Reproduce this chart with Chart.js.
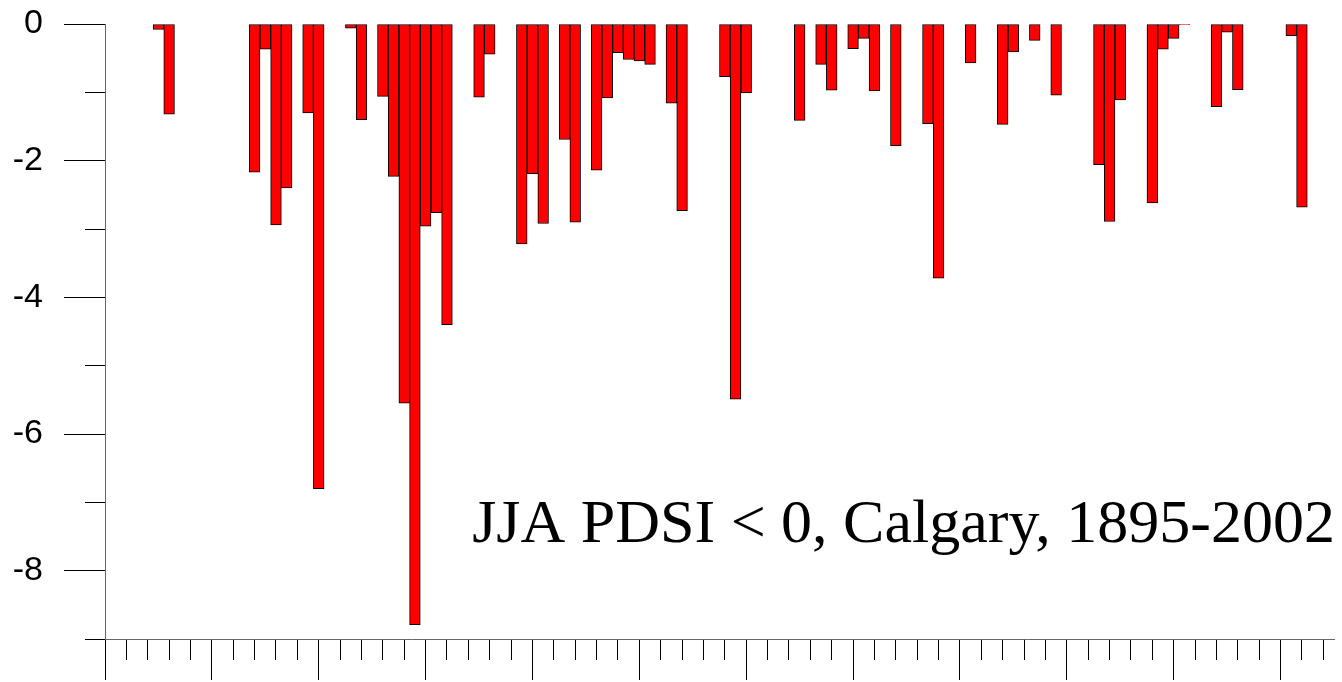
<!DOCTYPE html>
<html>
<head>
<meta charset="utf-8">
<script src="https://cdn.jsdelivr.net/npm/chart.js@4/dist/chart.umd.min.js"></script>
<style>
  html, body { margin: 0; padding: 0; background: #fff; }
  #wrap { width: 1342px; height: 682px; }
</style>
</head>
<body>
<div id="wrap"><canvas id="pdsi-chart"></canvas></div>
<script>
// JJA PDSI, dry years only (values < 0), Calgary
const years = [
    1895, 1896, 1904, 1905, 1906, 1907, 1909, 1910, 1913, 1914,
    1916, 1917, 1918, 1919, 1920, 1921, 1922, 1925, 1926, 1929,
    1930, 1931, 1933, 1934, 1936, 1937, 1938, 1939, 1940, 1941,
    1943, 1944, 1948, 1949, 1950, 1955, 1957, 1958, 1960, 1961,
    1962, 1964, 1967, 1968, 1971, 1974, 1975, 1977, 1979, 1983,
    1984, 1985, 1988, 1989, 1990, 1991, 1994, 1995, 1996, 2001,
    2002
];
const pdsi = [
    -0.08, -1.32, -2.17, -0.37, -2.94, -2.40, -1.30, -6.80, -0.06, -1.40,
    -1.06, -2.23, -5.55, -8.79, -2.96, -2.76, -4.40, -1.07, -0.44, -3.22,
    -2.19, -2.92, -1.69, -2.90, -2.14, -1.08, -0.42, -0.52, -0.54, -0.59,
    -1.16, -2.73, -0.77, -5.49, -1.01, -1.41, -0.59, -0.97, -0.36, -0.21,
    -0.98, -1.78, -1.46, -3.72, -0.57, -1.47, -0.41, -0.24, -1.04, -2.06,
    -2.89, -1.11, -2.62, -0.37, -0.21, -0.01, -1.21, -0.12, -0.96, -0.17,
    -2.68
];
const yearRange = [1890, 2005];
const pdsiRange = [-9, 0];
const caption = 'JJA PDSI < 0, Calgary, 1895-2002';

const captionPlugin = {
    id: 'caption',
    afterDraw(chart) {
        const ctx = chart.ctx;
        const area = chart.chartArea;
        ctx.save();
        ctx.font = '62px "Liberation Serif", "Times New Roman", serif';
        ctx.fillStyle = '#000';
        ctx.textAlign = 'right';
        ctx.textBaseline = 'alphabetic';
        ctx.fillText(caption, area.right + 1, chart.scales.y.getPixelForValue(-7.58));
        ctx.restore();
    }
};

new Chart(document.getElementById('pdsi-chart'), {
    type: 'bar',
    data: {
        datasets: [{
            label: 'JJA PDSI',
            data: years.map((yr, i) => ({ x: yr, y: pdsi[i] })),
            backgroundColor: '#ff0000',
            borderColor: '#000000',
            borderWidth: 1,
            borderSkipped: false,
            barPercentage: 1,
            categoryPercentage: 1
        }]
    },
    options: {
        responsive: true,
        maintainAspectRatio: false,
        animation: false,
        layout: { padding: { top: 24, right: 8, bottom: 2, left: 0 } },
        plugins: {
            legend: { display: false },
            tooltip: { enabled: false }
        },
        scales: {
            x: {
                type: 'linear',
                min: yearRange[0],
                max: yearRange[1],
                offset: false,
                ticks: { display: false, stepSize: 2, includeBounds: false },
                grid: {
                    offset: false,
                    drawOnChartArea: false,
                    tickLength: 41,
                    tickColor: '#000',
                    tickWidth: 1,
                    // decades get long ticks, other years short ones
                    tickBorderDash: ctx => (ctx.tick.value % 10 === 0 ? [] : [20, 21])
                },
                border: { color: '#666', width: 1 }
            },
            y: {
                min: pdsiRange[0],
                max: pdsiRange[1],
                afterFit(scale) { scale.width = 105; },
                ticks: {
                    stepSize: 1,
                    padding: 0,
                    color: '#000',
                    font: { family: '"Liberation Sans", Arial, sans-serif', size: 34 },
                    callback: v => (v % 2 === 0 ? String(v) : '')
                },
                grid: {
                    drawOnChartArea: false,
                    // tick space includes the gap to the labels; dashes leave that gap blank
                    tickLength: 62,
                    tickColor: '#000',
                    tickWidth: 1,
                    tickBorderDash: ctx => (ctx.tick.value % 2 === 0 ? [0, 21, 41] : [0, 42, 20])
                },
                border: { color: '#666', width: 1 }
            }
        }
    },
    plugins: [captionPlugin]
});
</script>
</body>
</html>
